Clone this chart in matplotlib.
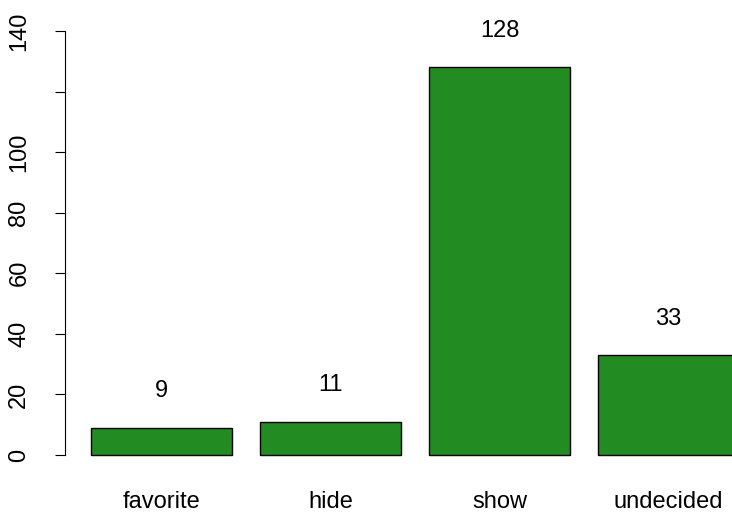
import matplotlib
matplotlib.use("Agg")
import matplotlib.pyplot as plt

categories = ["favorite", "hide", "show", "undecided"]
counts = [9, 11, 128, 33]
yticks = [0, 20, 40, 60, 80, 100, 120, 140]
# R drops the 120 label because it would overlap its neighbours
ytick_labels = ["0", "20", "40", "60", "80", "100", "", "140"]

plt.rcParams["font.family"] = ["Liberation Sans", "DejaVu Sans"]

fig = plt.figure(figsize=(7.32, 5.12), dpi=100)
# axes run past the right edge, like the R device did
ax = fig.add_axes([65 / 732, 40 / 512, 700 / 732, 458 / 512])

# R barplot layout: width 1, space 0.2
centers = [0.7 + 1.2 * i for i in range(len(counts))]
ax.bar(centers, counts, width=1.0, color="#228B22", edgecolor="black", linewidth=1.0)

for x, v in zip(centers, counts):
    ax.text(x, v + 12, str(v), ha="center", va="center", fontsize=17)

ax.set_xlim(0.016, 4.984)
ax.set_ylim(-5.6, 145.6)

for side in ["top", "right", "bottom"]:
    ax.spines[side].set_visible(False)
ax.spines["left"].set_bounds(0, 140)
ax.spines["left"].set_linewidth(0.8)

ax.set_yticks(yticks)
ax.set_yticklabels(ytick_labels, rotation=90, va="center", fontsize=17)
ax.tick_params(axis="y", length=7, width=0.8, pad=18)

ax.set_xticks(centers)
ax.set_xticklabels(categories, fontsize=17)
ax.tick_params(axis="x", length=0, pad=14)

fig.savefig("out.png", dpi=100)
